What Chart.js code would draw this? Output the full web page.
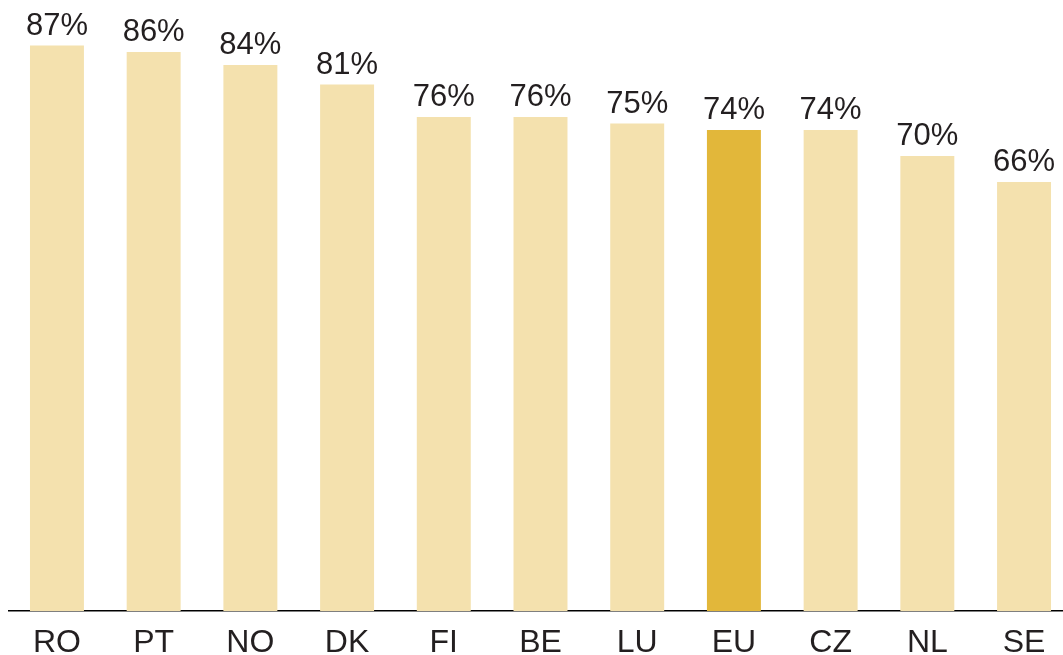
<!DOCTYPE html>
<html>
<head>
<meta charset="utf-8">
<script src="https://cdn.jsdelivr.net/npm/chart.js@4"></script>
<style>
html,body{margin:0;padding:0;overflow:hidden;background:#fff;}
#wrap{width:1073px;height:675px;position:relative;}
</style>
</head>
<body>
<div id="wrap"><canvas id="c"></canvas></div>
<script>
const categories = ["RO","PT","NO","DK","FI","BE","LU","EU","CZ","NL","SE"];
const values = [87,86,84,81,76,76,75,74,74,70,66];
const highlight = "EU";

const lightColor = "#F4E1AE";
const darkColor = "#E2B73A";
const textColor = "#231F20";
const fontFamily = "'Liberation Sans', Arial, sans-serif";

const valueLabels = {
  id: 'valueLabels',
  afterDatasetsDraw(chart) {
    const ctx = chart.ctx;
    const meta = chart.getDatasetMeta(0);
    ctx.save();
    ctx.font = "31px " + fontFamily;
    ctx.fillStyle = textColor;
    ctx.textAlign = "center";
    ctx.textBaseline = "alphabetic";
    meta.data.forEach((bar, i) => {
      ctx.fillText(values[i] + "%", bar.x, bar.y - 11);
    });
    ctx.restore();
  }
};

new Chart(document.getElementById('c'), {
  type: 'bar',
  data: {
    labels: categories,
    datasets: [{
      data: values,
      backgroundColor: categories.map(c => c === highlight ? darkColor : lightColor),
      borderWidth: 0,
      categoryPercentage: 1,
      barPercentage: 0.558
    }]
  },
  options: {
    responsive: true,
    maintainAspectRatio: false,
    animation: false,
    layout: { padding: { left: 8.6, right: 0.6, top: 0, bottom: 0 } },
    plugins: { legend: { display: false }, tooltip: { enabled: false } },
    scales: {
      x: {
        grid: { display: false, drawTicks: false },
        border: { display: true, color: "#000", width: 1.5 },
        ticks: { color: textColor, font: { family: fontFamily, size: 32, lineHeight: 1.2 }, padding: 12.8, maxRotation: 0, autoSkip: false }
      },
      y: {
        display: false,
        min: 0,
        max: 94
      }
    }
  },
  plugins: [valueLabels]
});
</script>
</body>
</html>
